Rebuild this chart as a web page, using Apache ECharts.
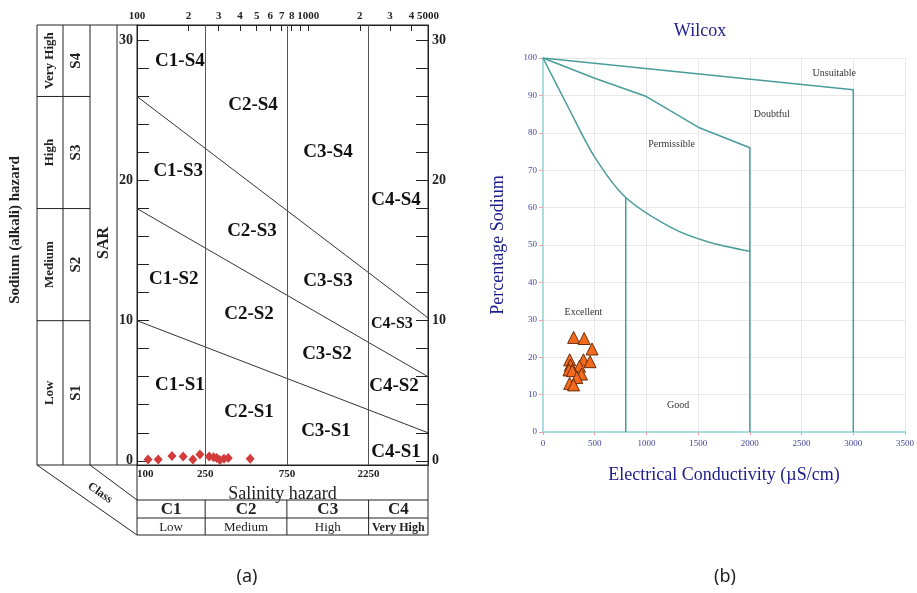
<!DOCTYPE html>
<html>
<head>
<meta charset="utf-8">
<script src="https://cdn.jsdelivr.net/npm/echarts@6/dist/echarts.min.js"></script>
<style>
  html, body { margin: 0; padding: 0; background: #fff; }
  #main { width: 917px; height: 593px; }
</style>
</head>
<body>
<div id="main"></div>
<script>
// ---- panel (a): USSL salinity / sodium diagram ----
var usslEC = [116, 133, 160, 186, 212, 233, 264, 280, 292, 305, 322, 341, 458];
var usslSAR = [0.1, 0.1, 0.35, 0.3, 0.1, 0.45, 0.3, 0.25, 0.2, 0.05, 0.15, 0.2, 0.15];
var classBounds = [250, 750, 2250];
var sarLines = [
  [[100, 10], [5000, 2]],
  [[100, 18], [5000, 6]],
  [[100, 26], [5000, 10.2]]
];
var zoneNames = ['C1-S4', 'C2-S4', 'C3-S4', 'C1-S3', 'C4-S4', 'C2-S3', 'C1-S2', 'C3-S3',
  'C2-S2', 'C4-S3', 'C3-S2', 'C4-S2', 'C1-S1', 'C2-S1', 'C3-S1', 'C4-S1'];
var zoneEC = [178, 476, 1303, 174, 3251, 469, 164, 1303, 451, 3080, 1285, 3165, 178, 451, 1268, 3251];
var zoneSAR = [28.5, 25.4, 22.0, 20.7, 18.6, 16.4, 13.0, 12.8, 10.5, 9.8, 7.6, 5.3, 5.4, 3.5, 2.1, 0.6];
var topTicks = [100, 200, 300, 400, 500, 600, 700, 800, 900, 1000, 2000, 3000, 4000, 5000];
var bottomLabels = [100, 250, 750, 2250];
var sarTicks = [0, 2, 4, 6, 8, 10, 12, 14, 16, 18, 20, 22, 24, 26, 28, 30];
var sarLabels = [0, 10, 20, 30];
var classNames = ['C1', 'C2', 'C3', 'C4'];
var classLevels = ['Low', 'Medium', 'High', 'Very High'];
var hazardLevels = ['Very High', 'High', 'Medium', 'Low'];
var hazardNames = ['S4', 'S3', 'S2', 'S1'];

// ---- panel (b): Wilcox diagram ----
var wilcoxEC = [296, 398, 474, 258, 391, 455, 353, 264, 251, 283, 372, 327, 258, 296];
var wilcoxNa = [25.3, 25.0, 22.2, 19.3, 19.3, 18.8, 17.6, 17.9, 16.6, 16.4, 15.5, 14.6, 13.0, 12.6];
var unsuitableLine = [[0, 100], [3000, 91.5], [3000, 0]];
var doubtfulLine = [[0, 100], [500, 94.6], [1000, 89.7], [1500, 81.5], [2000, 76], [2000, 0]];
var permissibleLine = [[0, 100], [250, 86.5], [500, 73.5], [800, 62.7],
  [1250, 54.5], [1600, 50.8], [2000, 48.3]];
var goodLine = [[800, 62.7], [800, 0]];
var wilcoxNames = ['Unsuitable', 'Doubtful', 'Permissible', 'Excellent', 'Good'];
var wilcoxNameEC = [2816, 2212, 1243, 391, 1306];
var wilcoxNameNa = [95.9, 85.0, 76.9, 31.9, 7.0];

var SERIF = '"Liberation Serif", "Times New Roman", serif';
var INK = '#222';
var TEAL = '#4a9c9c';
var NAVY = '#1c1c8c';

function zip(a, b) {
  return a.map(function (v, i) { return [v, b[i]]; });
}

function topLabel(v) {
  var n = Math.round(v);
  if (n === 100 || n === 1000 || n === 5000) return String(n);
  if (n === 900) return '';
  return String(n < 1000 ? n / 100 : n / 1000);
}
function plain(v) { return String(Math.round(v)); }

var chart = echarts.init(document.getElementById('main'));

var sarAxis = function (pos) {
  return {
    gridIndex: 0, type: 'value', min: -0.3, max: 31.1, position: pos,
    axisLine: { onZero: false, lineStyle: { color: INK } },
    axisTick: { inside: true, length: 12, customValues: sarTicks, lineStyle: { color: INK } },
    axisLabel: {
      customValues: sarLabels, fontFamily: SERIF, fontWeight: 'bold', fontSize: 14,
      color: INK, margin: 4
    },
    splitLine: { show: false }
  };
};

var lineSeries = function (data, xi, color, width, smooth) {
  return {
    type: 'line', xAxisIndex: xi, yAxisIndex: xi, data: data, symbol: 'none',
    silent: true, z: 2, smooth: smooth || false,
    lineStyle: { color: color, width: width }
  };
};

var option = {
  animation: false,
  grid: [
    { left: 137, top: 25, width: 291, height: 440, show: true, borderColor: INK, borderWidth: 1 },
    { left: 543, top: 58, width: 367, height: 374 }
  ],
  xAxis: [
    {
      gridIndex: 0, type: 'log', logBase: 10, min: 100, max: 5000, position: 'top',
      axisLine: { onZero: false, lineStyle: { color: INK } },
      axisTick: { inside: true, length: 6, customValues: topTicks, lineStyle: { color: INK } },
      axisLabel: {
        customValues: topTicks, formatter: topLabel, fontFamily: SERIF, fontWeight: 'bold',
        fontSize: 11, color: INK, margin: 3
      },
      splitLine: { show: false }
    },
    {
      gridIndex: 0, type: 'log', logBase: 10, min: 100, max: 5000, position: 'bottom',
      axisLine: { onZero: false, lineStyle: { color: INK } },
      axisTick: { show: false },
      axisLabel: {
        customValues: bottomLabels, formatter: plain, fontFamily: SERIF, fontWeight: 'bold',
        fontSize: 11, color: INK, margin: 4, alignMinLabel: 'left'
      },
      splitLine: { show: false },
      name: 'Salinity hazard', nameLocation: 'middle', nameGap: 16,
      nameTextStyle: { fontFamily: SERIF, fontSize: 18, color: INK, verticalAlign: 'top' }
    },
    {
      gridIndex: 1, type: 'value', min: 0, max: 3500, interval: 500,
      axisLine: { onZero: false, lineStyle: { color: '#a9dede', width: 2 } },
      axisTick: { show: true, length: 3, lineStyle: { color: '#e6a3a3' } },
      axisLabel: { formatter: plain, fontFamily: SERIF, fontSize: 9, color: '#45459a', margin: 7 },
      splitLine: { lineStyle: { color: '#e8e8e8' } },
      name: 'Electrical Conductivity (\u00b5S/cm)', nameLocation: 'middle', nameGap: 34,
      nameTextStyle: { fontFamily: SERIF, fontSize: 18, color: NAVY }
    }
  ],
  yAxis: [
    sarAxis('left'),
    sarAxis('right'),
    {
      gridIndex: 1, type: 'value', min: 0, max: 100, interval: 10,
      axisLine: { onZero: false, lineStyle: { color: '#a9dede', width: 2 } },
      axisTick: { show: true, length: 4, lineStyle: { color: '#e6a3a3' } },
      axisLabel: { fontFamily: SERIF, fontSize: 9, color: '#45459a', margin: 6 },
      splitLine: { lineStyle: { color: '#e8e8e8' } },
      name: 'Percentage Sodium', nameLocation: 'middle', nameGap: 36,
      nameTextStyle: { fontFamily: SERIF, fontSize: 18, color: NAVY }
    }
  ],
  series: [
    {
      type: 'scatter', xAxisIndex: 0, yAxisIndex: 0, data: zip(usslEC, usslSAR),
      symbol: 'diamond', symbolSize: [9, 10], z: 5,
      itemStyle: { color: '#d43c3c', opacity: 1 },
      markLine: {
        silent: true, symbol: 'none', label: { show: false },
        lineStyle: { color: '#555', width: 1, type: 'solid' },
        data: classBounds.map(function (b) { return { xAxis: b }; })
      }
    },
    lineSeries(sarLines[0], 0, '#333', 1),
    lineSeries(sarLines[1], 0, '#333', 1),
    lineSeries(sarLines[2], 0, '#333', 1),
    {
      type: 'scatter', xAxisIndex: 0, yAxisIndex: 0, symbolSize: 1, silent: true, z: 4,
      itemStyle: { color: '#fff', opacity: 1 },
      label: {
        show: true, position: 'inside', formatter: '{b}', fontFamily: SERIF,
        fontWeight: 'bold', fontSize: 19, color: '#111', opacity: 1, textBorderWidth: 0
      },
      data: zoneNames.map(function (n, i) {
        var item = { name: n, value: [zoneEC[i], zoneSAR[i]] };
        if (n === 'C4-S3') item.label = { fontSize: 16 };
        return item;
      })
    },
    lineSeries(unsuitableLine, 2, TEAL, 1.5),
    lineSeries(doubtfulLine, 2, TEAL, 1.5),
    lineSeries(permissibleLine, 2, TEAL, 1.5, 0.3),
    lineSeries(goodLine, 2, TEAL, 1.5),
    {
      type: 'scatter', xAxisIndex: 2, yAxisIndex: 2, data: zip(wilcoxEC, wilcoxNa),
      symbol: 'triangle', symbolSize: 12, z: 5,
      itemStyle: { color: '#f26a1b', borderColor: '#6b2a08', borderWidth: 1, opacity: 1 }
    },
    {
      type: 'scatter', xAxisIndex: 2, yAxisIndex: 2, symbolSize: 1, silent: true,
      itemStyle: { color: '#fff', opacity: 1 },
      label: {
        show: true, position: 'inside', formatter: '{b}', fontFamily: SERIF,
        fontSize: 10, color: '#333', opacity: 1, textBorderWidth: 0
      },
      data: wilcoxNames.map(function (n, i) {
        return { name: n, value: [wilcoxNameEC[i], wilcoxNameNa[i]] };
      })
    }
  ]
};

chart.setOption(option);

// frame, hazard table and class table around panel (a), tied to its axes
var toPx = function (ec, sar) { return chart.convertToPixel({ seriesIndex: 0 }, [ec, sar]); };
var gl = toPx(100, 0)[0], gr = toPx(5000, 0)[0];
var gt = toPx(100, 31.1)[1], gb = toPx(100, -0.3)[1];
var colX = [37, 63, 90, 117];
var rowY = [gt].concat(sarLines.slice().reverse().map(function (l) { return toPx(100, l[0][1])[1]; }), [gb]);
var tabY = [gb, gb + 35, gb + 53, gb + 70];
var colEdges = [gl].concat(classBounds.map(function (b) { return toPx(b, 0)[0]; }), [gr]);

var g = [];
var line = function (x1, y1, x2, y2) {
  g.push({ type: 'line', shape: { x1: x1, y1: y1, x2: x2, y2: y2 }, style: { stroke: INK, lineWidth: 1 }, silent: true });
};
var text = function (s, x, y, font, rot, color) {
  g.push({
    type: 'text', x: x, y: y, rotation: rot || 0, silent: true,
    style: { text: s, font: font, fill: color || INK, align: 'center', verticalAlign: 'middle' }
  });
};

line(colX[0], gt, gl, gt);
line(colX[0], gb, gl, gb);
colX.forEach(function (x) { line(x, gt, x, gb); });
rowY.slice(1, 4).forEach(function (y) { line(colX[0], y, colX[2], y); });
for (var i = 0; i < 4; i++) {
  var my = (rowY[i] + rowY[i + 1]) / 2;
  text(hazardLevels[i], (colX[0] + colX[1]) / 2, my, 'bold 13px ' + SERIF, Math.PI / 2);
  text(hazardNames[i], (colX[1] + colX[2]) / 2, my, 'bold 15px ' + SERIF, Math.PI / 2);
}
text('SAR', (colX[2] + colX[3]) / 2, 243, 'bold 16px ' + SERIF, Math.PI / 2);
text('Sodium (alkali) hazard', 15, 230, 'bold 15px ' + SERIF, Math.PI / 2);

tabY.slice(1).forEach(function (y) { line(gl, y, gr, y); });
line(gl, gb, gl, tabY[3]);
line(gr, gb, gr, tabY[3]);
colEdges.slice(1, 4).forEach(function (x) { line(x, tabY[1], x, tabY[3]); });
for (var j = 0; j < 4; j++) {
  var mx = (colEdges[j] + colEdges[j + 1]) / 2;
  text(classNames[j], mx, (tabY[1] + tabY[2]) / 2 + 1, 'bold 17px ' + SERIF);
  text(classLevels[j], mx, (tabY[2] + tabY[3]) / 2 + 1,
    j === 3 ? 'bold 12px ' + SERIF : '13px ' + SERIF);
}
line(colX[0], gb, gl, tabY[3]);
line(colX[2], gb, gl, tabY[1]);
text('Class', 100, 493, 'bold 12px ' + SERIF, -Math.atan2(tabY[3] - gb, gl - colX[0]));

text('Wilcox', 700, 31, '18px ' + SERIF, 0, NAVY);
text('(a)', 247, 577, '18px "Noto Sans", sans-serif');
text('(b)', 725, 577, '18px "Noto Sans", sans-serif');

chart.setOption({ graphic: g });
</script>
</body>
</html>
